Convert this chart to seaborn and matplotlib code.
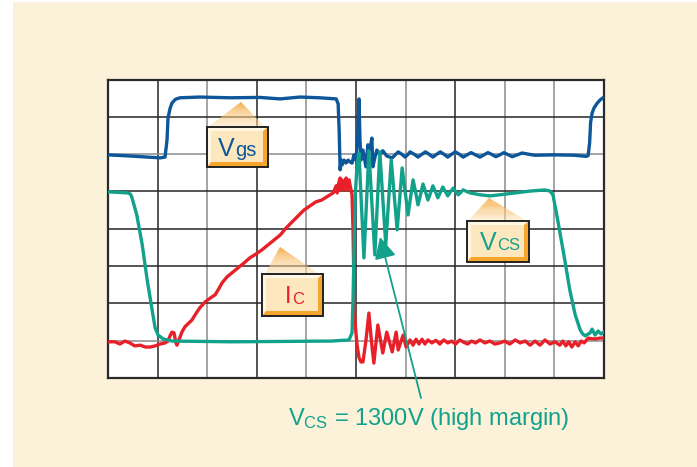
import numpy as np
import pandas as pd
import matplotlib
matplotlib.use("Agg")
import matplotlib.pyplot as plt
import seaborn as sns
from matplotlib.patches import Polygon, Rectangle, FancyArrowPatch
from matplotlib.transforms import Affine2D

# ---------------- data (graticule divisions: x 0..10, y 0..8) ----------------
vgs_t = [0.00, 0.44, 1.05, 1.15, 1.19, 1.21, 1.25, 1.29, 1.36, 1.45, 1.85, 2.46, 3.06, 3.47, 3.87,
         4.27, 4.60, 4.64, 4.66, 4.68, 4.70, 4.72, 4.76, 4.80, 4.84, 4.88, 4.92, 4.96, 5.00, 5.04,
         5.06, 5.08, 5.10, 5.14, 5.20, 5.24, 5.28, 5.32, 5.34, 5.38, 5.42, 5.48, 5.54, 5.58, 5.62,
         5.68, 5.73, 5.79, 5.85, 5.92, 5.99, 6.04, 6.09, 6.17, 6.25, 6.32, 6.40, 6.47, 6.55, 6.62,
         6.70, 6.77, 6.85, 6.92, 7.00, 7.08, 7.16, 7.24, 7.32, 7.41, 7.50, 7.58, 7.66, 7.74, 7.82,
         7.90, 7.98, 8.06, 8.15, 8.25, 8.35, 8.47, 8.60, 9.00, 9.40, 9.64, 9.68, 9.71, 9.73, 9.76,
         9.80, 9.86, 9.92, 10.00]
vgs_v = [5.98, 5.95, 5.90, 5.92, 6.38, 6.97, 7.22, 7.37, 7.47, 7.51, 7.53, 7.51, 7.52, 7.48, 7.53,
         7.51, 7.48, 7.35, 6.65, 5.58, 5.84, 5.71, 5.84, 5.76, 5.84, 5.79, 5.76, 5.98, 5.84, 6.60,
         7.48, 6.40, 5.84, 6.11, 5.66, 6.25, 6.11, 6.43, 5.66, 5.90, 6.11, 5.98, 6.09, 6.02, 5.95,
         5.92, 5.90, 5.98, 6.06, 6.00, 5.92, 5.98, 6.06, 6.00, 5.92, 5.99, 6.06, 6.00, 5.92, 5.99,
         6.06, 6.00, 5.92, 5.99, 6.06, 6.00, 5.92, 5.98, 6.04, 5.98, 5.92, 5.98, 6.04, 5.99, 5.93,
         5.98, 6.04, 5.99, 5.93, 5.98, 6.03, 6.00, 5.97, 5.98, 5.97, 5.94, 5.96, 6.30, 6.85, 7.10,
         7.24, 7.36, 7.45, 7.53]

vcs_t = [0.00, 0.40, 0.45, 0.48, 0.58, 0.69, 0.79, 0.89, 0.95, 1.01, 1.11, 1.29, 2.50, 3.50, 4.50,
         4.86, 4.92, 4.94, 4.96, 4.98, 5.02, 5.06, 5.16, 5.26, 5.38, 5.48, 5.60, 5.71, 5.83, 5.93,
         6.05, 6.15, 6.20, 6.25, 6.30, 6.35, 6.40, 6.45, 6.50, 6.55, 6.60, 6.65, 6.70, 6.75, 6.80,
         6.85, 6.90, 6.96, 7.01, 7.06, 7.11, 7.16, 7.30, 7.50, 7.70, 7.90, 8.21, 8.51, 8.81, 8.91,
         8.97, 9.03, 9.11, 9.21, 9.31, 9.42, 9.52, 9.57, 9.62, 9.72, 9.76, 9.82, 9.88, 9.94, 10.00]
vcs_v = [4.99, 4.96, 4.93, 4.85, 4.37, 3.57, 2.63, 1.82, 1.34, 1.15, 1.05, 0.99, 0.97, 0.98, 0.99,
         1.02, 1.21, 2.09, 3.43, 4.77, 5.70, 6.03, 3.22, 6.09, 3.30, 6.06, 3.57, 5.84, 3.97, 5.63,
         4.37, 5.31, 5.00, 4.64, 4.90, 5.20, 5.00, 4.77, 4.95, 5.15, 5.00, 4.83, 4.97, 5.12, 5.00,
         4.88, 4.98, 5.09, 5.00, 4.91, 4.97, 5.04, 4.96, 4.91, 4.88, 4.91, 4.96, 5.01, 5.04, 5.01,
         4.91, 4.50, 3.91, 3.16, 2.36, 1.69, 1.29, 1.18, 1.13, 1.21, 1.31, 1.15, 1.26, 1.18, 1.23]

ic_t = [0.00, 0.14, 0.24, 0.34, 0.44, 0.54, 0.65, 0.75, 0.85, 0.95, 1.05, 1.15, 1.21, 1.25, 1.29,
        1.33, 1.35, 1.37, 1.39, 1.43, 1.49, 1.55, 1.61, 1.69, 1.77, 1.85, 1.96, 2.06, 2.16, 2.22,
        2.30, 2.40, 2.50, 2.62, 2.74, 2.86, 2.98, 3.10, 3.23, 3.35, 3.47, 3.59, 3.71, 3.83, 3.95,
        4.07, 4.19, 4.31, 4.44, 4.54, 4.60, 4.62, 4.64, 4.68, 4.70, 4.72, 4.76, 4.80, 4.82, 4.86,
        4.88, 4.92, 4.94, 4.96, 4.98, 5.02, 5.06, 5.10, 5.14, 5.20, 5.26, 5.31, 5.36, 5.44, 5.54,
        5.62, 5.73, 5.81, 5.85, 5.95, 6.01, 6.09, 6.15, 6.21, 6.27, 6.33, 6.39, 6.45, 6.53, 6.61,
        6.69, 6.77, 6.85, 6.93, 7.01, 7.09, 7.17, 7.25, 7.33, 7.41, 7.50, 7.60, 7.70, 7.80, 7.90,
        8.00, 8.10, 8.21, 8.31, 8.41, 8.51, 8.61, 8.71, 8.81, 8.91, 9.01, 9.11, 9.17, 9.23, 9.29,
        9.35, 9.42, 9.48, 9.54, 9.60, 9.68, 9.76, 9.84, 9.92, 10.00]
ic_v = [0.97, 0.97, 0.91, 0.99, 0.94, 0.86, 0.88, 0.83, 0.83, 0.86, 0.91, 0.94, 0.99, 1.13, 1.23,
        1.21, 1.07, 0.94, 0.88, 1.02, 1.23, 1.37, 1.45, 1.55, 1.72, 1.88, 2.04, 2.14, 2.23, 2.36,
        2.55, 2.71, 2.82, 2.95, 3.08, 3.22, 3.32, 3.43, 3.57, 3.70, 3.83, 4.02, 4.18, 4.34, 4.50,
        4.61, 4.72, 4.77, 4.88, 4.96, 5.15, 4.96, 5.17, 5.36, 5.04, 5.31, 5.04, 5.36, 5.04, 5.31,
        5.17, 4.91, 3.97, 2.36, 1.50, 0.90, 0.55, 0.43, 0.43, 1.00, 1.74, 1.00, 0.40, 1.42, 0.67,
        1.23, 0.70, 1.23, 0.75, 1.15, 0.83, 1.02, 0.88, 1.04, 0.91, 1.04, 0.91, 1.02, 0.94, 1.01,
        0.91, 1.02, 0.94, 0.99, 0.91, 1.02, 0.96, 0.91, 0.99, 0.94, 1.02, 0.94, 0.99, 0.91, 0.94,
        0.99, 0.91, 1.02, 0.94, 0.99, 0.88, 0.99, 0.88, 1.02, 0.91, 0.97, 0.88, 0.99, 0.86, 0.97,
        0.83, 0.97, 0.86, 0.99, 0.94, 1.07, 1.05, 1.05, 1.07, 1.07]

trace_names = ["Vgs", "Vcs", "Ic"]
blue, teal, red = "#0d5699", "#12a18b", "#e7202a"

# ---------------- style ----------------
sns.set_theme(style="white")
plt.rcParams['font.family'] = ['Liberation Sans', 'DejaVu Sans']
plt.rcParams['mathtext.fontset'] = 'custom'
plt.rcParams['mathtext.rm'] = 'Liberation Sans'
plt.rcParams['mathtext.it'] = 'Liberation Sans'
plt.rcParams['mathtext.bf'] = 'Liberation Sans'

W, H = 697, 467
fig = plt.figure(figsize=(W / 100, H / 100), dpi=100)
fig.patch.set_facecolor('white')
cream = '#fcf2da'
fig.add_artist(Rectangle((13 / W, 0), 1, (H - 2) / H, transform=fig.transFigure,
                         facecolor=cream, edgecolor='none', zorder=-10))

# pixel (top-left origin) transform for layout decorations
PX = Affine2D().scale(1 / 100, -1 / 100).translate(0, H / 100) + fig.dpi_scale_trans

ax = fig.add_axes([108 / W, 1 - 378 / H, (604 - 108) / W, (378 - 79.5) / H])
ax.set_facecolor('white')
ax.set_xlim(0, 10)
ax.set_ylim(0, 8)
ax.set_xticks([])
ax.set_yticks([])
for s in ax.spines.values():
    s.set_color('#2a2a2a')
    s.set_linewidth(1.6)
    s.set_visible(True)

dark, grey = '#262626', '#8c8c8c'
vcols = [dark, grey, dark, grey, dark, grey, dark, grey, grey]
for i, c in enumerate(vcols, start=1):
    ax.axvline(i, color=c, lw=1.1, zorder=1)
hcols = {1: grey, 2: dark, 3: dark, 4: dark, 5: dark, 6: grey, 7: dark}
for yv, c in hcols.items():
    ax.axhline(yv, color=c, lw=1.1, zorder=1)

traces = [(vgs_t, vgs_v, blue, 3), (ic_t, ic_v, red, 4), (vcs_t, vcs_v, teal, 5)]
for t, v, col, z in traces:
    df = pd.DataFrame({'t': t, 'v': v})
    sns.lineplot(data=df, x='t', y='v', ax=ax, color=col, lw=2.4, sort=False,
                 estimator=None, zorder=z, solid_joinstyle='round', solid_capstyle='round')
ax.set_xlabel('')
ax.set_ylabel('')

renderer = fig.canvas.get_renderer()


def sub_label(x, y, main, sub, color, fs_main, fs_sub, drop=0.0, gap=0.5, z=9):
    t1 = fig.text(x, y, main, transform=PX, ha='left', va='baseline',
                  fontsize=fs_main, color=color, zorder=z)
    w = t1.get_window_extent(renderer=renderer).width
    fig.text(x + w + gap, y + drop, sub, transform=PX, ha='left', va='baseline',
             fontsize=fs_sub, color=color, zorder=z)


# ---------------- callouts ----------------
def callout(L, T, R, B, apex, bl, br):
    n = 26
    c0 = np.array([0.96, 0.62, 0.16])
    c1 = np.array([0.99, 0.90, 0.75])
    ax_, ay_ = apex
    for k in range(n):
        f0, f1 = k / n, (k + 1) / n
        p = [(ax_ + f0 * (bl[0] - ax_), ay_ + f0 * (bl[1] - ay_)),
             (ax_ + f0 * (br[0] - ax_), ay_ + f0 * (br[1] - ay_)),
             (ax_ + f1 * (br[0] - ax_), ay_ + f1 * (br[1] - ay_)),
             (ax_ + f1 * (bl[0] - ax_), ay_ + f1 * (bl[1] - ay_))]
        fm = (f0 + f1) / 2
        col = c0 * (1 - fm) + c1 * fm
        fig.add_artist(Polygon(p, closed=True, transform=PX, facecolor=col,
                               edgecolor='none', alpha=0.92 - 0.35 * fm, zorder=6))
    bw = 5
    fig.add_artist(Polygon([(L, T), (R, T), (R - bw, T + 4), (L + 4, T + 4), (L + 4, B - bw), (L, B)],
                           transform=PX, facecolor='#fff6e4', edgecolor='none', zorder=7))
    fig.add_artist(Polygon([(L, B), (R, B), (R, T), (R - bw, T + 4), (R - bw, B - bw), (L + 4, B - bw)],
                           transform=PX, facecolor='#f6a62c', edgecolor='none', zorder=7))
    fig.add_artist(Rectangle((L + 4, B - bw), (R - bw) - (L + 4), (T + 4) - (B - bw),
                             transform=PX, facecolor='#fde7bf', edgecolor='none', zorder=7))
    fig.add_artist(Rectangle((L, B), R - L, T - B, transform=PX, facecolor='none',
                             edgecolor='#222222', lw=1.4, zorder=8))


callout(207, 127, 268, 167, (241, 102), (208, 127), (265, 127))
sub_label(217.5, 156, 'V', 'gs', blue, 18, 14.5)
callout(262, 274, 323, 316, (280, 247), (265, 274), (319, 274))
sub_label(285, 303, 'I', 'C', red, 17, 12, drop=1)
callout(467, 221, 529, 262, (489, 198), (468, 221), (527, 221))
sub_label(480, 250, 'V', 'CS', teal, 18, 12)

# arrow and bottom annotation
arrow = FancyArrowPatch((421, 398), (380, 237), transform=PX,
                        arrowstyle='-|>,head_length=0.6,head_width=0.3',
                        mutation_scale=22, color=teal, lw=1.3, shrinkA=0, shrinkB=0, zorder=10)
fig.add_artist(arrow)
fig.text(288, 425, r'$\mathregular{V_{CS}}$ = 1300V (high margin)', transform=PX,
         ha='left', va='baseline', fontsize=17, color=teal, zorder=10)

fig.savefig('out.png', dpi=100, facecolor=fig.get_facecolor())
